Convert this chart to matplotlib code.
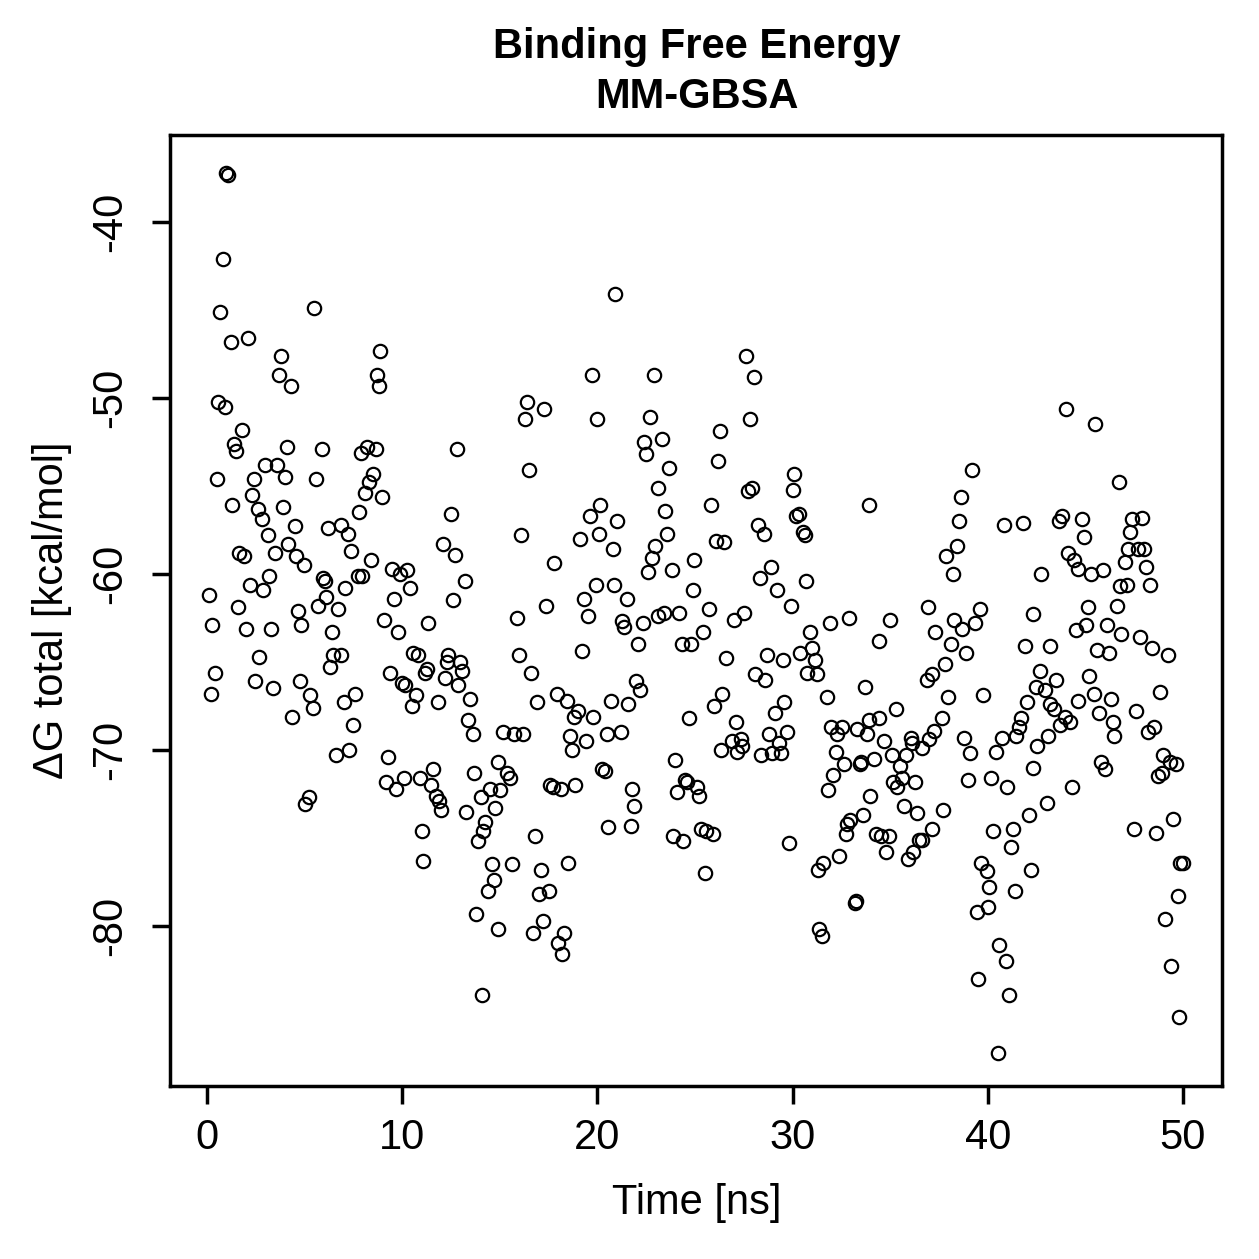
import matplotlib
matplotlib.use("Agg")
import matplotlib.pyplot as plt

plt.rcParams["font.family"] = ["Liberation Sans", "DejaVu Sans"]

# values (time in ns, dG in kcal/mol)
time_ns = [
    0.09, 0.19, 0.27, 0.41, 0.51, 0.58, 0.68, 0.79, 0.92, 0.97, 1.09, 1.20, 1.30, 1.38, 1.50,
    1.59, 1.66, 1.79, 1.90, 1.98, 2.08, 2.20, 2.29, 2.39, 2.48, 2.60, 2.68, 2.80, 2.89, 2.97,
    3.11, 3.19, 3.30, 3.40, 3.48, 3.57, 3.71, 3.81, 3.89, 4.00, 4.10, 4.17, 4.30, 4.37, 4.49,
    4.58, 4.68, 4.78, 4.80, 4.95, 5.02, 5.23,
    5.28, 5.41, 5.48, 5.58, 5.69, 5.89, 5.95, 6.02, 6.10, 6.18, 6.30, 6.39, 6.47, 6.59, 6.69,
    6.85, 6.88, 7.00, 7.09, 7.22, 7.29, 7.38, 7.50, 7.58, 7.75, 7.79, 7.94, 7.90, 8.09, 8.21,
    8.30, 8.38, 8.49, 8.66, 8.71, 8.80, 8.88, 8.98, 9.09, 9.17, 9.29, 9.38, 9.48, 9.60, 9.68,
    9.79, 9.89, 9.97, 10.09, 10.14, 10.26,
    10.42, 10.48, 10.55, 10.69, 10.83, 10.90, 10.99, 11.08, 11.15, 11.27, 11.30, 11.46, 11.60,
    11.71, 11.82, 11.90, 11.99, 12.11, 12.19, 12.31, 12.35, 12.50, 12.60, 12.69, 12.79, 12.87,
    12.98, 13.08, 13.20, 13.27, 13.35, 13.49, 13.61, 13.70, 13.80, 13.90, 14.02, 14.11, 14.16,
    14.24, 14.41, 14.50, 14.62, 14.72, 14.75, 14.89, 14.91, 15.01, 15.16, 15.39, 15.52, 15.61,
    15.75,
    15.90, 16.00, 16.20, 16.27, 16.39, 16.50, 16.60, 16.10, 16.68, 16.79, 16.89, 17.01, 17.11,
    17.19, 17.28, 17.38, 17.52, 17.57, 17.71, 17.80, 17.91, 18.00, 18.12, 18.20, 18.31, 18.43,
    18.48, 18.60, 18.70, 18.79, 18.86, 19.00, 19.09, 19.19, 19.31, 19.42, 19.50, 19.60, 19.71,
    19.79, 19.91, 20.00, 20.08, 20.15, 20.22, 20.39, 20.47, 20.56, 20.68, 20.78, 20.85, 20.92,
    21.02, 21.24,
    21.19, 21.38, 21.50, 21.58, 21.72, 21.79, 21.89, 22.00, 22.08, 22.18, 22.32, 22.40, 22.49,
    22.58, 22.70, 22.78, 22.92, 22.97, 23.09, 23.12, 23.31, 23.43, 23.48, 23.58, 23.69, 23.80,
    23.89, 23.99, 24.10, 24.16, 24.32, 24.40, 24.49, 24.61, 24.71, 24.80, 24.88, 24.94, 25.12,
    25.20, 25.31, 25.39, 25.51, 25.55, 25.72, 25.82, 25.91, 25.97, 26.06, 26.16, 26.26, 26.33,
    26.40, 26.50, 26.60,
    26.88, 27.00, 27.10, 27.17, 27.36, 27.42, 27.51, 27.60, 27.73, 27.80, 27.92, 28.00, 28.07,
    28.21, 28.35, 28.38, 28.52, 28.60, 28.71, 28.81, 28.89, 28.96, 29.10, 29.20, 29.32, 29.42,
    29.51, 29.58, 29.71, 29.80, 29.90, 30.00, 30.09, 30.16, 30.33, 30.38, 30.52, 30.62, 30.71,
    30.75, 30.89, 31.01, 31.13, 31.23, 31.28, 31.37, 31.49, 31.57,
    31.76, 31.90, 31.83, 31.95, 32.09, 32.22, 32.29, 32.39, 32.51, 32.63, 32.72, 32.79, 32.91,
    32.96, 33.18, 33.25, 33.32, 33.43, 33.52, 33.61, 33.71, 33.81, 33.90, 33.92, 33.98, 34.19,
    34.27, 34.41, 34.43, 34.53, 34.70, 34.79, 34.92, 34.99, 35.09, 35.14, 35.30, 35.33, 35.52,
    35.62, 35.69, 35.83, 35.90, 36.06, 36.13, 36.17, 36.29, 36.35, 36.46, 36.61, 36.63, 36.87,
    36.96, 37.00, 37.13, 37.16, 37.30, 37.25,
    37.64, 37.72, 37.81, 37.86, 37.98, 38.11, 38.20, 38.29, 38.41, 38.51, 38.61, 38.70, 38.80,
    38.88, 39.00, 39.09, 39.21, 39.33, 39.43, 39.52, 39.62, 39.67, 39.77, 39.98, 40.00, 40.08,
    40.18, 40.28, 40.40, 40.50, 40.59, 40.71, 40.81, 40.94, 40.99, 41.10, 41.21, 41.31, 41.39,
    41.45, 41.58, 41.68, 41.79, 41.91, 41.99, 42.09, 42.21, 42.30, 42.34, 42.47, 42.54, 42.67,
    42.75,
    42.93, 43.19, 43.01, 43.10, 43.20, 43.41, 43.51, 43.63, 43.68, 43.82, 43.95, 44.02, 44.09,
    44.21, 44.31, 44.42, 44.50, 44.60, 44.64, 44.81, 44.91, 45.03, 45.12, 45.20, 45.29, 45.42,
    45.51, 45.59, 45.70, 45.78, 45.92, 46.00, 46.11, 46.21, 46.31, 46.42, 46.49, 46.60, 46.70,
    46.79, 46.82, 47.03, 47.12, 47.17, 47.28, 47.37, 47.51, 47.59, 47.71, 47.81, 47.92, 47.99,
    48.12, 48.19, 48.31, 48.40, 48.50, 48.60, 48.70, 48.80, 48.91, 49.00, 49.10, 49.22, 49.33,
    49.39, 49.51, 49.64, 49.73, 49.79, 49.85, 49.98,
]

dg_total = [
    -61.2, -66.8, -62.9, -65.6, -54.6, -50.2, -45.1, -42.1, -50.5, -37.2, -37.3, -46.8, -56.1, -52.6, -53.0,
    -61.9, -58.8, -51.8, -59.0, -63.1, -46.6, -60.6, -55.5, -54.6, -66.1, -56.3, -64.7, -56.9, -60.9, -53.8,
    -57.8, -60.1, -63.1, -66.5, -58.8, -53.8, -48.7, -47.6, -56.2, -54.5, -52.8, -58.3, -49.3, -68.1, -57.3,
    -59.0, -62.1, -66.1, -62.9, -59.5, -73.1, -72.7,
    -66.9, -67.6, -44.9, -54.6, -61.8, -52.9, -60.2, -60.4, -61.3, -57.4, -65.3, -63.3, -64.6, -70.3, -62.0,
    -64.6, -57.2, -67.3, -60.8, -57.7, -70.0, -58.7, -68.6, -66.8, -60.1, -56.5, -60.1, -53.1, -55.4, -52.8,
    -54.8, -59.2, -54.3, -52.9, -48.7, -49.3, -47.3, -55.6, -62.6, -71.8, -70.4, -65.6, -59.7, -61.4, -72.2,
    -63.3, -60.0, -66.2, -71.6, -66.3, -59.8,
    -60.8, -67.5, -64.5, -66.9, -64.6, -71.6, -74.6, -76.3, -65.6, -65.4, -62.8, -72.0, -71.1,
    -72.6, -67.3, -72.9, -73.4, -58.3, -65.9, -65.0, -64.6, -56.6, -61.5, -58.9, -52.9, -66.3,
    -65.0, -65.5, -60.4, -73.5, -68.3, -67.1, -69.1, -71.3, -79.3, -75.2, -72.7, -83.9, -74.6,
    -74.1, -78.0, -72.2, -76.5, -77.4, -73.3, -70.7, -80.2, -72.3, -69.0, -71.3, -71.6, -76.5,
    -69.1,
    -62.5, -64.6, -69.1, -51.2, -50.2, -54.1, -65.6, -57.8, -80.4, -74.9, -67.3, -78.2, -76.8,
    -79.7, -50.6, -61.8, -78.0, -72.0, -72.1, -59.4, -66.8, -81.0, -72.2, -81.6, -80.4, -67.2,
    -76.4, -69.2, -70.0, -68.1, -72.0, -67.8, -58.0, -64.4, -61.4, -69.5, -62.4, -56.7, -48.7,
    -68.1, -60.6, -51.2, -57.7, -56.1, -71.1, -71.2, -69.1, -74.4, -67.2, -58.6, -60.6, -44.1,
    -57.0, -62.7,
    -69.0, -63.0, -61.4, -67.4, -74.3, -72.2, -73.2, -66.1, -64.0, -66.6, -62.8, -52.5, -53.2,
    -59.9, -51.1, -59.1, -48.7, -58.4, -55.1, -62.4, -52.3, -62.2, -56.4, -57.7, -54.0, -59.8,
    -74.9, -70.6, -72.4, -62.2, -64.0, -75.2, -71.7, -71.8, -68.2, -64.0, -60.9, -59.2, -72.1,
    -72.6, -74.5, -63.3, -77.0, -74.6, -62.0, -56.1, -74.8, -67.5, -58.1, -53.6, -51.9, -70.0,
    -66.8, -58.2, -64.8,
    -69.5, -62.6, -68.4, -70.1, -69.4, -69.8, -62.2, -47.6, -55.3, -51.2, -55.1, -48.8, -65.7,
    -57.2, -60.2, -70.3, -57.7, -66.0, -64.6, -69.1, -59.6, -70.2, -67.9, -60.9, -69.6, -70.2,
    -64.9, -67.3, -69.0, -75.3, -61.8, -55.2, -54.3, -56.7, -56.6, -64.5, -57.6, -57.8, -60.4,
    -65.6, -63.3, -64.2, -64.9, -65.7, -76.8, -80.2, -80.6, -76.4,
    -67.0, -62.8, -72.3, -68.7, -71.4, -70.1, -69.1, -76.0, -68.7, -70.8, -74.8, -74.2, -62.5,
    -74.0, -78.7, -78.6, -68.8, -70.8, -70.7, -73.7, -66.4, -69.1, -56.1, -68.3, -72.6, -70.5,
    -74.8, -63.8, -68.2, -74.9, -69.5, -75.8, -74.9, -62.6, -70.3, -71.8, -67.7, -72.1, -70.9,
    -71.6, -73.2, -70.3, -76.2, -69.3, -69.6, -75.8, -71.8, -73.6, -75.1, -69.9, -75.1, -66.0,
    -61.9, -69.4, -74.5, -65.7, -63.3, -68.9,
    -68.2, -73.4, -65.1, -59.0, -67.0, -64.0, -60.0, -62.6, -58.4, -57.0, -55.6, -63.1, -69.3,
    -64.5, -71.7, -70.2, -54.1, -62.8, -79.2, -83.0, -62.0, -76.4, -66.9, -76.9, -78.9, -77.8,
    -71.6, -74.6, -70.1, -87.2, -81.1, -69.3, -57.2, -82.0, -72.1, -83.9, -75.5, -74.5, -78.0,
    -69.2, -68.7, -68.2, -57.1, -64.1, -67.3, -73.7, -76.8, -71.0, -62.3, -66.4, -69.8, -65.5,
    -60.0,
    -66.6, -64.1, -73.0, -69.2, -67.4, -67.7, -66.0, -57.0, -68.6, -56.7, -68.1, -50.6, -58.8,
    -68.4, -72.1, -59.2, -63.2, -67.2, -59.7, -56.9, -57.9, -62.9, -61.9, -65.8, -60.0, -66.8,
    -51.5, -64.3, -67.9, -70.7, -59.8, -71.1, -62.9, -64.5, -67.1, -68.4, -69.2, -61.8, -54.8,
    -60.7, -63.4, -59.3, -60.6, -58.6, -57.6, -56.9, -74.5, -67.8, -58.6, -63.6, -56.8, -58.6,
    -59.6, -69.0, -60.6, -64.2, -68.7, -74.7, -71.5, -66.7, -71.3, -70.3, -79.6, -64.6, -70.7,
    -82.3, -73.9, -70.8, -78.3, -85.2, -76.4, -76.4,
]

W = 1259
fig = plt.figure(figsize=(W / 200, W / 200), dpi=200)
ax = fig.add_axes([170 / W, 1 - 1086 / W, (1222 - 170) / W, (1086 - 135) / W])

ax.plot(time_ns, dg_total, "o", ms=4.8, mfc="none", mec="black", mew=0.8)

ax.set_xlim(-1.9, 52.0)
ax.set_ylim(-89.1, -35.05)
ax.set_xticks([0, 10, 20, 30, 40, 50])
ax.set_yticks([-80, -70, -60, -50, -40])
ax.set_yticklabels(["-80", "-70", "-60", "-50", "-40"], rotation=90, va="center")
ax.tick_params(direction="out", length=6.5, width=1.25, labelsize=15, colors="black")
ax.tick_params(axis="x", pad=5)
ax.tick_params(axis="y", pad=8)
for sp in ax.spines.values():
    sp.set_linewidth(1.25)

fig.text(697 / W, 1 - 47 / W, "Binding Free Energy", ha="center", va="center",
         fontsize=15, fontweight="bold")
fig.text(697 / W, 1 - 97 / W, "MM-GBSA", ha="center", va="center",
         fontsize=15, fontweight="bold")
fig.text(697 / W, 1 - 1203 / W, "Time [ns]", ha="center", va="center", fontsize=15)
fig.text(52 / W, 1 - 610 / W, "\u0394G total [kcal/mol]", ha="center", va="center",
         rotation=90, fontsize=15)

fig.savefig("out.png", dpi=200, facecolor="white")
